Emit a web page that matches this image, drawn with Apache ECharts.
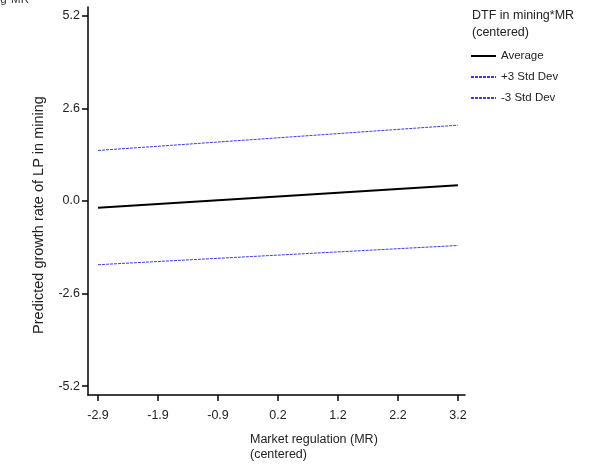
<!DOCTYPE html>
<html>
<head>
<meta charset="utf-8">
<script src="https://cdn.jsdelivr.net/npm/echarts@6/dist/echarts.min.js"></script>
<style>html,body{margin:0;padding:0;background:#fff}#c{width:614px;height:466px}</style>
</head>
<body>
<div id="c"></div>
<script>
// Data
const xValues = [-2.9, 3.2];
const averageVals = [-0.19, 0.44];
const plus3Vals = [1.42, 2.13];
const minus3Vals = [-1.79, -1.25];
const xTickLabels = ['-2.9', '-1.9', '-0.9', '0.2', '1.2', '2.2', '3.2'];
const yTickValues = [-5.2, -2.6, 0, 2.6, 5.2];
const seriesNames = ['Average', '+3 Std Dev', '-3 Std Dev'];

const xMin = -2.9, xMax = 3.2;
const xTickPos = xTickLabels.map((_, i) => xMin + (xMax - xMin) * i / (xTickLabels.length - 1));
const pts = vals => xValues.map((x, i) => [x, vals[i]]);
const font = 'Liberation Sans, Arial, sans-serif';

const chart = echarts.init(document.getElementById('c'));
chart.setOption({
  animation: false,
  backgroundColor: '#fff',
  grid: { left: 88, right: 149, top: 7, bottom: 71, containLabel: false },
  xAxis: {
    type: 'value', min: -3.07, max: 3.32,
    axisLine: { show: true, onZero: false, lineStyle: { color: '#000', width: 1.5 } },
    axisTick: { show: true, length: 6, lineStyle: { color: '#000', width: 1.5 }, customValues: xTickPos },
    axisLabel: {
      customValues: xTickPos, color: '#222', fontSize: 12.5, fontFamily: font, margin: 14,
      formatter: v => {
        let best = 0, d = Infinity;
        xTickPos.forEach((p, i) => { if (Math.abs(p - v) < d) { d = Math.abs(p - v); best = i; } });
        return xTickLabels[best];
      }
    },
    splitLine: { show: false }
  },
  yAxis: {
    type: 'value', min: -5.45, max: 5.45,
    axisLine: { show: true, onZero: false, lineStyle: { color: '#000', width: 1.5 } },
    axisTick: { show: true, length: 6, lineStyle: { color: '#000', width: 1.5 }, customValues: yTickValues },
    axisLabel: { customValues: yTickValues, color: '#222', fontSize: 12.5, fontFamily: font, margin: 8,
      formatter: v => v.toFixed(1) },
    splitLine: { show: false }
  },
  legend: {
    orient: 'vertical', left: 465, top: 45, itemWidth: 25, itemHeight: 10, itemGap: 9,
    itemStyle: { opacity: 0 },
    textStyle: { color: '#222', fontSize: 11.5, fontFamily: font },
    data: seriesNames
  },
  graphic: [
    { type: 'text', left: 472, top: 7, style: { text: 'DTF in mining*MR\n(centered)', font: '12.5px ' + font, fill: '#222', lineHeight: 17 } },
    { type: 'text', x: 250, y: 432, style: { text: 'Market regulation (MR)\n(centered)', font: '12.5px ' + font, fill: '#222', lineHeight: 15 } },
    { type: 'text', x: 39, y: 215, rotation: Math.PI / 2, style: { text: 'Predicted growth rate of LP in mining', font: '14.5px ' + font, fill: '#222', align: 'center', verticalAlign: 'middle' } },
    { type: 'text', x: 29, y: 0, style: { text: 'DTF in mining*MR', font: '11.5px ' + font, fill: '#333', align: 'right', verticalAlign: 'middle' } }
  ],
  series: [
    { name: seriesNames[0], type: 'line', data: pts(averageVals), symbol: 'none', lineStyle: { color: '#000', width: 2 }, itemStyle: { color: '#000' } },
    { name: seriesNames[1], type: 'line', data: pts(plus3Vals), symbol: 'none', lineStyle: { color: '#3a3af5', width: 1, type: [3, 1] }, itemStyle: { color: '#3a3af5' } },
    { name: seriesNames[2], type: 'line', data: pts(minus3Vals), symbol: 'none', lineStyle: { color: '#3a3af5', width: 1, type: [3, 1] }, itemStyle: { color: '#3a3af5' } }
  ]
});
</script>
</body>
</html>
